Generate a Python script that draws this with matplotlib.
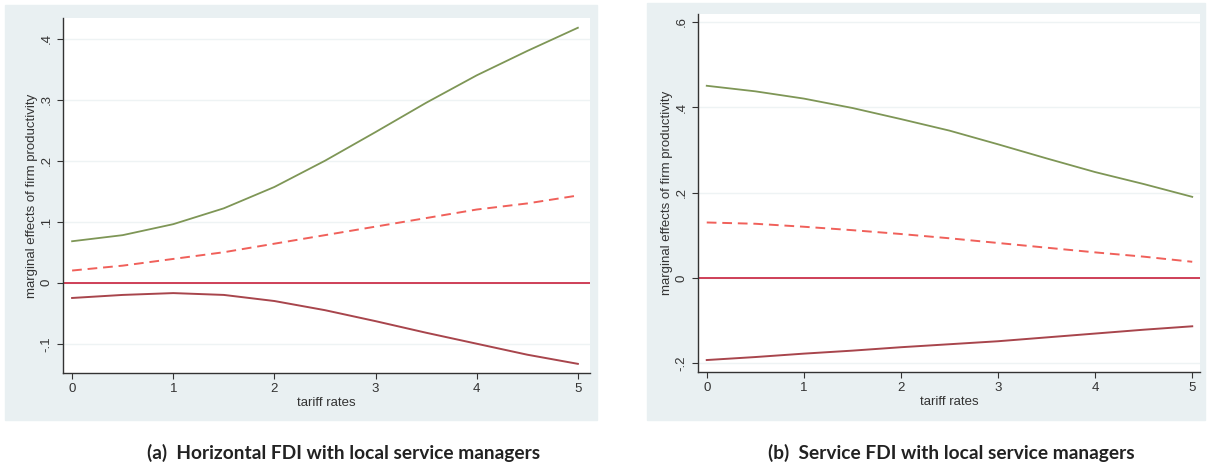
import matplotlib.pyplot as plt
from matplotlib.patches import Rectangle

# tariff rate grid
tariff = [0, 0.5, 1, 1.5, 2, 2.5, 3, 3.5, 4, 4.5, 5]

# (a) Horizontal FDI with local service managers
a_upper = [0.068, 0.078, 0.096, 0.122, 0.157, 0.200, 0.247, 0.295, 0.340, 0.380, 0.418]
a_mid = [0.020, 0.028, 0.039, 0.050, 0.064, 0.078, 0.092, 0.106, 0.120, 0.130, 0.143]
a_lower = [-0.025, -0.020, -0.017, -0.020, -0.030, -0.045, -0.063, -0.082, -0.100, -0.118, -0.133]

# (b) Service FDI with local service managers
b_upper = [0.450, 0.437, 0.420, 0.398, 0.372, 0.345, 0.313, 0.280, 0.248, 0.220, 0.190]
b_mid = [0.130, 0.127, 0.120, 0.112, 0.103, 0.093, 0.082, 0.071, 0.060, 0.050, 0.038]
b_lower = [-0.192, -0.185, -0.177, -0.170, -0.162, -0.155, -0.148, -0.139, -0.130, -0.121, -0.113]

a_yticks = [-0.1, 0, 0.1, 0.2, 0.3, 0.4]
a_ylabels = ["-.1", "0", ".1", ".2", ".3", ".4"]
b_yticks = [-0.2, 0, 0.2, 0.4, 0.6]
b_ylabels = ["-.2", "0", ".2", ".4", ".6"]

captions = ["(a)  Horizontal FDI with local service managers",
            "(b)  Service FDI with local service managers"]

W, H = 1209, 467
BG = "#e9f0f2"
GREEN = "#7e9656"
DASH = "#f0605a"
LOW = "#a8454c"
ZERO = "#c8203c"


def fx(px):
    return px / W


def fy(py):
    return 1 - py / H


def draw(ax, upper, mid, lower, yticks, ylabels, ylim, xlim):
    ax.set_facecolor("white")
    for y in yticks:
        ax.axhline(y, color="#eef3f4", lw=1.0, zorder=0)
    ax.plot(tariff, upper, color=GREEN, lw=1.3)
    ax.plot(tariff, mid, color=DASH, lw=1.4, ls=(0, (5, 3)))
    ax.plot(tariff, lower, color=LOW, lw=1.4)
    ax.axhline(0, color=ZERO, lw=1.2)
    ax.set_xlim(*xlim)
    ax.set_ylim(*ylim)
    ax.set_xticks([0, 1, 2, 3, 4, 5])
    ax.set_yticks(yticks)
    ax.set_yticklabels(ylabels, rotation=90, va="center")
    ax.spines["top"].set_visible(False)
    ax.spines["right"].set_visible(False)
    for s in ("left", "bottom"):
        ax.spines[s].set_color("#333333")
        ax.spines[s].set_linewidth(1.0)
    ax.tick_params(colors="#333333", labelsize=9.5, length=4, width=0.8)
    ax.set_xlabel("tariff rates", fontsize=9.5, color="#333333", labelpad=1)
    ax.set_ylabel("marginal effects of firm productivity", fontsize=9.5,
                  color="#333333", labelpad=2)


plt.rcParams['font.family'] = ['Liberation Sans Narrow', 'Liberation Sans', 'DejaVu Sans']
fig = plt.figure(figsize=(W / 100, H / 100), dpi=100)
fig.patch.set_facecolor("white")

# grey graph regions
fig.patches.append(Rectangle((fx(5), fy(420)), fx(592), 415 / H,
                             transform=fig.transFigure, color=BG, zorder=-1))
fig.patches.append(Rectangle((fx(647), fy(420)), fx(558), 417 / H,
                             transform=fig.transFigure, color=BG, zorder=-1))

ax1 = fig.add_axes([fx(63), fy(373), fx(527), 355 / H])
draw(ax1, a_upper, a_mid, a_lower, a_yticks, a_ylabels, (-0.148, 0.434), (-0.09, 5.12))

ax2 = fig.add_axes([fx(698), fy(372), fx(502), 358 / H])
draw(ax2, b_upper, b_mid, b_lower, b_yticks, b_ylabels, (-0.22, 0.618), (-0.09, 5.08))

fig.text(fx(344), fy(453), captions[0], ha="center", va="center",
         fontsize=13.8, fontweight="bold", family=["Lato", "DejaVu Sans"], color="#222222")
fig.text(fx(951), fy(453), captions[1], ha="center", va="center",
         fontsize=13.8, fontweight="bold", family=["Lato", "DejaVu Sans"], color="#222222")

fig.savefig("out.png", dpi=100)
